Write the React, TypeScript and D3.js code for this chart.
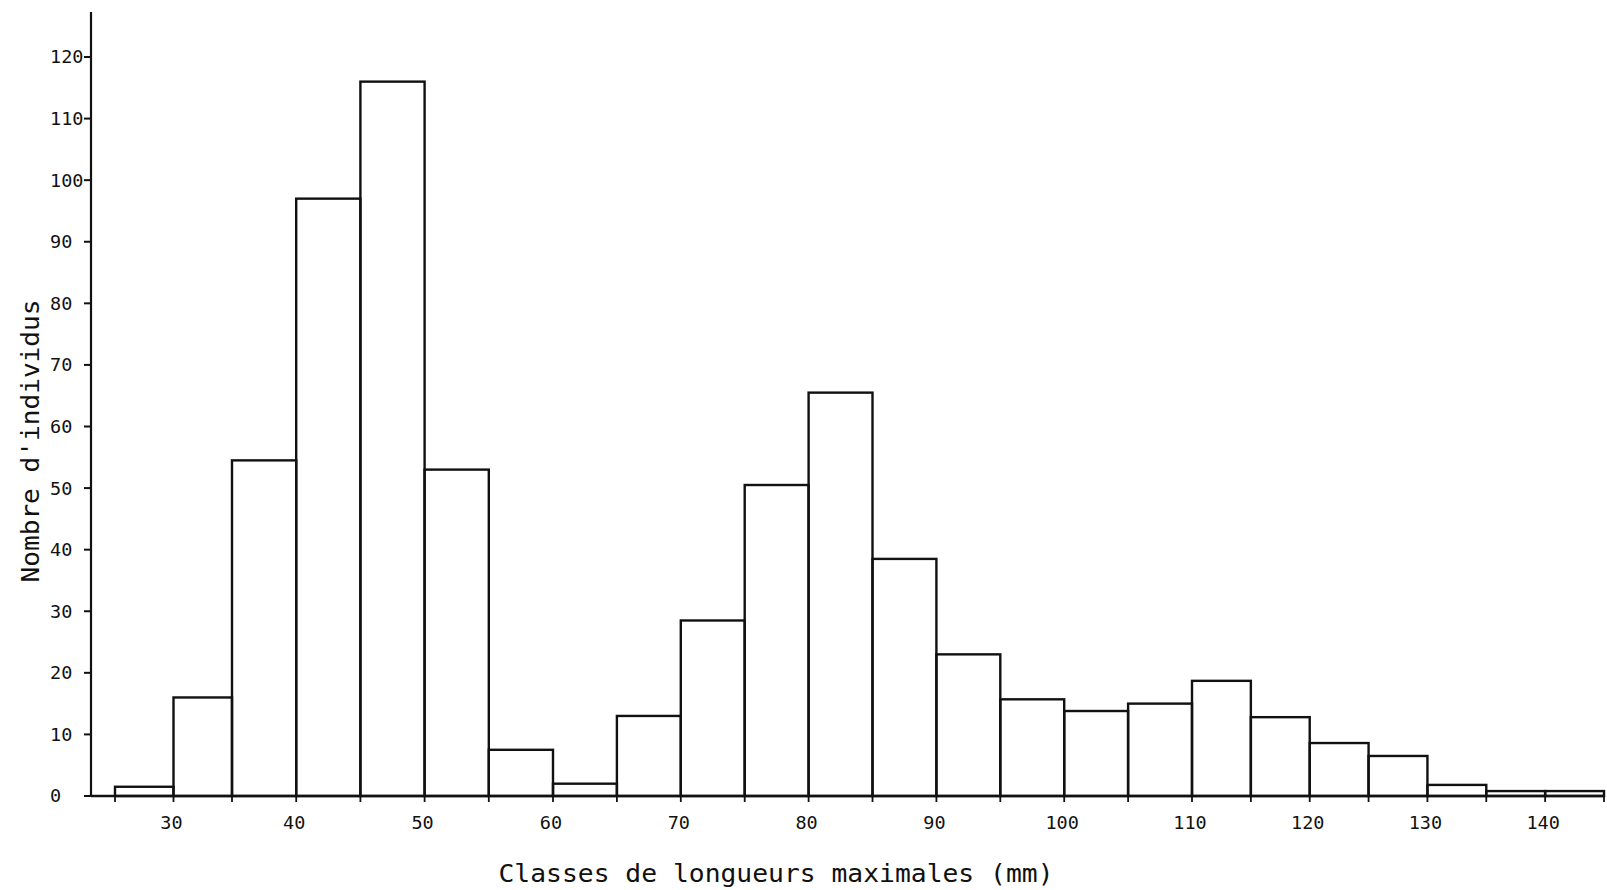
import { useEffect, useRef } from 'react';
import * as d3 from 'd3';

// classes de longueur (mm), bornes inférieures
const classStarts = [25, 30, 35, 40, 45, 50, 55, 60, 65, 70, 75, 80, 85, 90, 95, 100, 105, 110, 115, 120, 125, 130, 135, 140];
const counts = [1.5, 16, 54.5, 97, 116, 53, 7.5, 2, 13, 28.5, 50.5, 65.5, 38.5, 23, 15.7, 13.8, 15, 18.7, 12.8, 8.6, 6.5, 1.8, 0.8, 0.8];
const classWidth = 5;

const xTickLabels = [30, 40, 50, 60, 70, 80, 90, 100, 110, 120, 130, 140];
const yTickLabels = [0, 10, 20, 30, 40, 50, 60, 70, 80, 90, 100, 110, 120];

const xTitle = 'Classes de longueurs maximales (mm)';
const yTitle = "Nombre d'individus";

const W = 1607;
const H = 890;
const FONT = '"DejaVu Sans Mono", "Liberation Mono", monospace';

export default function App() {
  const svgRef = useRef<SVGSVGElement>(null);

  useEffect(() => {
    if (!svgRef.current) return;
    const svg = d3.select(svgRef.current);
    svg.selectAll('*').remove();

    // the scanned original is not evenly spaced, so the scale is piecewise
    const x = d3.scaleLinear().domain([25, 35, 60, 110, 145]).range([115, 232, 553, 1192, 1604]);
    const y = d3.scaleLinear().domain([0, 120]).range([796, 57]);
    const axisX = 91;

    svg.append('rect').attr('width', W).attr('height', H).attr('fill', '#fff');

    // bars
    svg.append('g')
      .selectAll('rect')
      .data(classStarts.map((s, i) => ({ s, v: counts[i] })))
      .enter()
      .append('rect')
      .attr('x', (d) => x(d.s))
      .attr('y', (d) => y(d.v))
      .attr('width', (d) => x(d.s + classWidth) - x(d.s))
      .attr('height', (d) => y(0) - y(d.v))
      .attr('fill', 'none')
      .attr('stroke', '#111')
      .attr('stroke-width', 2.4);

    // axes lines
    svg.append('line')
      .attr('x1', axisX).attr('x2', axisX)
      .attr('y1', 12).attr('y2', y(0))
      .attr('stroke', '#111').attr('stroke-width', 2.2);
    svg.append('line')
      .attr('x1', axisX).attr('x2', x(145))
      .attr('y1', y(0)).attr('y2', y(0))
      .attr('stroke', '#111').attr('stroke-width', 2.6);

    // y ticks
    const yt = svg.append('g');
    yt.selectAll('line')
      .data(yTickLabels)
      .enter()
      .append('line')
      .attr('x1', axisX - 7).attr('x2', axisX)
      .attr('y1', (d) => y(d)).attr('y2', (d) => y(d))
      .attr('stroke', '#111').attr('stroke-width', 2);
    yt.selectAll('text')
      .data(yTickLabels)
      .enter()
      .append('text')
      .attr('x', 50)
      .attr('y', (d) => y(d))
      .attr('dy', '0.35em')
      .attr('font-family', FONT)
      .attr('font-size', 18.5)
      .attr('fill', '#111')
      .text((d) => String(d));

    // x ticks every class boundary
    const xt = svg.append('g');
    xt.selectAll('line')
      .data(d3.range(25, 150, 5))
      .enter()
      .append('line')
      .attr('x1', (d) => x(d)).attr('x2', (d) => x(d))
      .attr('y1', y(0)).attr('y2', y(0) + 6)
      .attr('stroke', '#111').attr('stroke-width', 1.8);
    xt.selectAll('text')
      .data(xTickLabels)
      .enter()
      .append('text')
      .attr('x', (d) => x(d) - 2)
      .attr('y', 823)
      .attr('dy', '0.35em')
      .attr('text-anchor', 'middle')
      .attr('font-family', FONT)
      .attr('font-size', 18.5)
      .attr('fill', '#111')
      .text((d) => String(d));

    // titles
    svg.append('text')
      .attr('x', 776)
      .attr('y', 882)
      .attr('text-anchor', 'middle')
      .attr('font-family', FONT)
      .attr('font-size', 25)
      .attr('textLength', 555)
      .attr('lengthAdjust', 'spacingAndGlyphs')
      .attr('fill', '#111')
      .text(xTitle);

    svg.append('text')
      .attr('transform', 'translate(39,441) rotate(-90)')
      .attr('text-anchor', 'middle')
      .attr('font-family', FONT)
      .attr('font-size', 25)
      .attr('textLength', 283)
      .attr('lengthAdjust', 'spacingAndGlyphs')
      .attr('fill', '#111')
      .text(yTitle);
  }, []);

  return (
    <svg
      ref={svgRef}
      width={W}
      height={H}
      viewBox={`0 0 ${W} ${H}`}
      style={{ position: 'absolute', left: 0, top: 0, display: 'block' }}
    />
  );
}
